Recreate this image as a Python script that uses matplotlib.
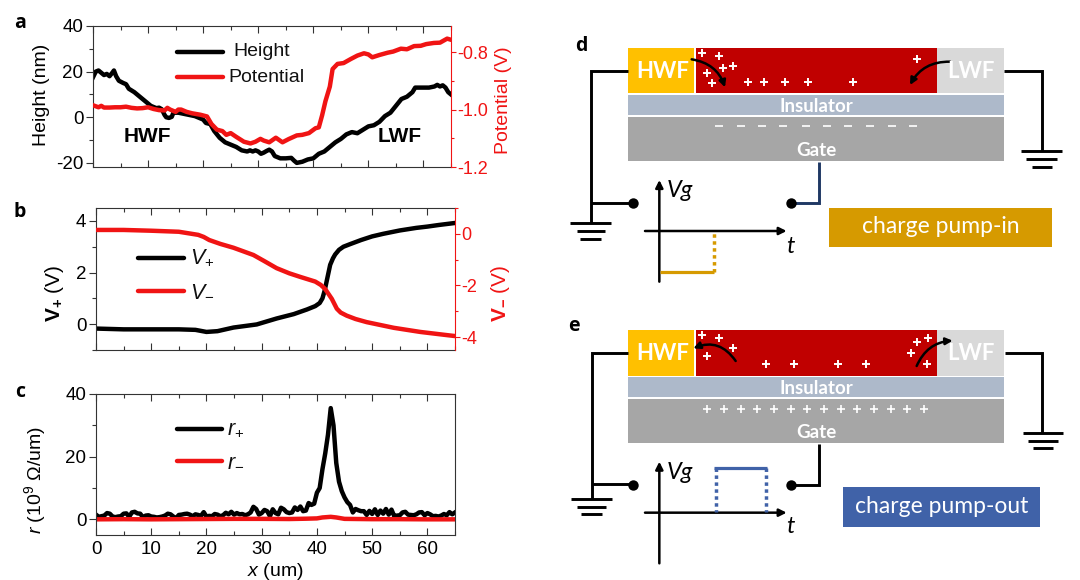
import matplotlib
matplotlib.use("Agg")
import matplotlib.pyplot as plt
from matplotlib.patches import Rectangle, FancyArrowPatch
from matplotlib.ticker import MultipleLocator

plt.rcParams['font.family'] = ['Liberation Sans', 'DejaVu Sans']
plt.rcParams['mathtext.fontset'] = 'custom'
plt.rcParams['mathtext.rm'] = 'Liberation Sans'
plt.rcParams['mathtext.it'] = 'Liberation Sans:italic'
plt.rcParams['mathtext.bf'] = 'Liberation Sans:bold'
plt.rcParams['axes.unicode_minus'] = False

# panel a
height_x = [0, 0.5, 1, 1.5, 2, 2.5, 3, 3.5, 3.8, 4.2, 4.7, 5.5, 6, 6.5, 7.5, 8.5, 9.5, 10.5, 11.5, 12,
            12.5, 13, 13.3, 13.8, 14.3, 14.6, 15.5, 16.5, 17.5, 18.5, 19.5, 20, 20.5, 21.3, 22, 23, 24,
            25, 26, 27, 28, 28.5, 29, 29.5, 30, 30.5, 31, 31.5, 32, 32.5, 33, 34, 35, 36, 36.5, 37, 38,
            39, 40, 41, 42, 43, 44, 45, 46, 47, 48, 49, 50, 51, 52, 53, 54, 55, 56, 57, 58, 58.5, 60,
            61, 62, 62.5, 63, 63.5, 64, 64.5, 65]
height = [17.5, 20, 20.5, 19.5, 18.5, 19, 18, 19.5, 20.5, 18, 16, 15, 14.5, 12.5, 11, 9, 7, 5, 4, 4.2,
          3.5, 1, 0, -0.3, 0.2, 2, 2, 1.5, 1, 0.5, -0.5, -1, -2.5, -3, -6, -9, -11,
          -12, -13, -14.5, -15, -14.5, -15, -14.5, -15, -16, -15.5, -14.8, -14.2, -15, -17, -18, -18, -17.8, -19, -20, -19.5,
          -18.5, -18, -16, -15, -13, -11, -9.5, -7.5, -6.5, -7, -5.5, -4, -3.5, -2, 0.5, 2, 5, 8, 9, 11, 13, 13,
          13, 13.5, 14.2, 13.5, 14, 13, 11, 10]
potential_x = [0, 1, 1.5, 2, 3, 4, 5, 6, 7, 8, 9, 10, 11, 12, 13, 13.5, 14, 15, 15.5, 16, 17, 18, 19.5, 20.7,
               21.5, 22.5, 23.5, 24.2, 25, 26, 27.4, 28.6, 29.5, 30.4, 31, 32, 33.2, 34.4, 35.5, 37, 38, 39.2,
               40.4, 41, 41.6, 42.2, 43, 43.5, 44.4, 45.5, 46.8, 48, 49.2, 50, 50.7, 52, 53.5, 54.5, 55.9, 57,
               58.3, 59.5, 60.5, 61.9, 63, 64.3, 65]
potential = [-0.985, -0.992, -0.987, -0.993, -0.993, -0.992, -0.992, -0.990, -0.994, -0.996, -0.995, -0.992,
             -0.998, -1.002, -1.003, -0.994, -1.0, -1.008, -1.0, -1.0, -1.008, -1.013, -1.018, -1.024,
             -1.05, -1.07, -1.075, -1.088, -1.082, -1.095, -1.112, -1.118, -1.112, -1.102, -1.108, -1.114,
             -1.098, -1.114, -1.103, -1.09, -1.088, -1.082,
             -1.065, -1.062, -1.02, -0.971, -0.92, -0.859, -0.841, -0.838, -0.824, -0.812, -0.804, -0.808,
             -0.818, -0.81, -0.802, -0.798, -0.788, -0.79,
             -0.779, -0.778, -0.772, -0.768, -0.767, -0.753, -0.757]

# panel b
v_plus_x = [0, 5, 10, 15, 18, 20, 22, 24.9, 29.1, 32.7, 35.8, 38.2, 39.7, 40.5, 41, 41.4, 41.8, 42.4, 42.9, 43.3,
            44, 44.8, 46, 48, 50, 52, 55, 58, 60, 62, 65]
v_plus = [-0.17, -0.2, -0.2, -0.2, -0.22, -0.3, -0.27, -0.13, -0.01, 0.22, 0.39, 0.57, 0.7, 0.82, 1.0, 1.3, 1.7,
          2.3, 2.55, 2.7, 2.88, 3.0, 3.1, 3.26, 3.4, 3.5, 3.63, 3.73, 3.78, 3.84, 3.92]
v_minus_x = [0, 5, 10, 15, 18.5, 19.5, 20.5, 22.5, 24.9, 28.5, 30.5, 32.7, 35, 37, 39.7, 40.7, 41.5, 42.7, 43.6, 44.3,
             45.4, 47, 49, 53.9, 58.7, 63, 65]
v_minus = [0.15, 0.15, 0.12, 0.08, -0.04, -0.12, -0.24, -0.39, -0.54, -0.82, -1.06, -1.33, -1.53, -1.67, -1.85,
           -1.98, -2.14, -2.52, -2.9, -3.05, -3.17, -3.3, -3.42, -3.64, -3.8, -3.91, -3.96]

# panel c
r_plus_x = [0, 0.5, 1, 1.5, 2, 2.5, 3, 3.5, 4, 4.5, 5, 5.5, 6, 6.5, 7, 7.5, 8, 8.5, 9, 9.5, 10, 10.5, 11, 11.5,
            12, 12.5, 13, 13.5, 14, 14.5, 15, 15.5, 16, 16.5, 17, 17.5, 18, 18.5, 19, 19.5, 20, 20.5, 21, 21.5,
            22, 22.5, 23, 23.5, 24, 24.5, 25, 25.5, 26, 26.5, 27, 27.5, 28, 28.5, 29, 29.5, 30, 30.5, 31, 31.5,
            32, 32.5, 33, 33.5, 34, 34.5, 35, 35.5, 36, 36.5, 37, 37.5, 38, 38.5, 39, 39.5, 40, 40.5, 41, 41.5,
            42, 42.5, 43, 43.5, 44, 44.5, 45, 45.5, 46, 46.5, 47, 47.5, 48, 48.5, 49, 49.5, 50, 50.5, 51, 51.5,
            52, 52.5, 53, 53.5, 54, 54.5, 55, 55.5, 56, 56.5, 57, 57.5, 58, 58.5, 59, 59.5, 60, 60.5, 61, 61.5,
            62, 62.5, 63, 63.5, 64, 64.5, 65]
r_plus = [1.5, 0.8, 1, 1.2, 2, 1.8, 0.9, 0.7, 0.9, 1.0, 1.8, 1.9, 0.8, 2.2, 2.4, 1.9, 1.8, 0.7, 1.2, 1.3, 0.9, 0.8, 0.6, 0.7,
          0.9, 1.2, 1.8, 1.6, 0.9, 0.4, 1.4, 1.5, 1.7, 1.8, 1.5, 1, 1.6, 1.4, 1.1, 2.3, 0.9, 1.1, 1.0, 1.7,
          1.5, 1.0, 1.3, 2.1, 1.6, 2.4, 1.5, 2.0, 1.6, 1.7, 1.3, 1.6, 2.2, 4.0, 3.3, 1.5, 2.0, 3.0, 2.6, 1.0,
          3.2, 2.0, 1.6, 3.7, 3.2, 2.3, 2.0, 2.2, 3.8, 3.0, 4.1, 2.6, 2.8, 5.2, 4.6, 5.0, 8.5, 10, 16, 21,
          27, 35.5, 30, 18, 12, 9, 7, 5.5, 4.6, 2.2, 3.3, 2.9, 2.6, 2.6, 1.4, 2.7, 1.7, 3.2, 1.4, 2.8,
          1.8, 3.3, 1.5, 3.1, 1.0, 1.2, 1.3, 2.2, 2.4, 1.5, 1.4, 1.3, 1.6, 2.2, 2.3, 1.3, 2.0, 1.6, 1.0, 1.1,
          0.9, 1.2, 1.7, 1.3, 2.3, 1.6, 2.2]
r_minus_x = [0, 5, 10, 15, 20, 25, 30, 35, 38, 40, 41, 42.5, 43.5, 45, 50, 55, 60, 65]
r_minus = [0.0, 0.05, 0.0, 0.05, 0.1, 0.15, 0.15, 0.1, 0.2, 0.3, 0.6, 0.8, 0.6, 0.15, 0.05, 0.05, 0.0, 0.0]

x_major = [0, 10, 20, 30, 40, 50, 60]
RED = '#F01414'
LW = 3.2
TICK_SIZE = 13.5
LABEL_SIZE = 14


def style_axes(ax, twin, y_major, y_minor, r_major=None, r_minor=None):
    ax.set_xlim(0, 65)
    ax.set_xticks(x_major)
    ax.xaxis.set_minor_locator(MultipleLocator(5))
    ax.tick_params(axis='x', which='both', direction='in', top=True, labelbottom=False, width=0.8, color='#333333')
    ax.tick_params(axis='x', which='major', length=5)
    ax.tick_params(axis='x', which='minor', length=3)
    ax.yaxis.set_major_locator(MultipleLocator(y_major))
    ax.yaxis.set_minor_locator(MultipleLocator(y_minor))
    ax.tick_params(axis='y', which='major', length=5, width=0.8, labelsize=TICK_SIZE, pad=2, color='#333333')
    ax.tick_params(axis='y', which='minor', length=3, width=0.8, color='#333333')
    for s in ax.spines.values():
        s.set_linewidth(0.8)
        s.set_color('#333333')
    if twin is not None:
        ax.spines['right'].set_visible(False)
        twin.yaxis.set_major_locator(MultipleLocator(r_major))
        twin.yaxis.set_minor_locator(MultipleLocator(r_minor))
        twin.tick_params(axis='y', which='major', length=3.5, width=0.8, labelsize=13, pad=1,
                         colors=RED)
        twin.tick_params(axis='y', which='minor', length=2.5, width=0.8, colors=RED)
        for name in ['left', 'top', 'bottom']:
            twin.spines[name].set_visible(False)
        twin.spines['right'].set_color(RED)
        twin.spines['right'].set_linewidth(0.8)


W, H = 1080, 580
fig = plt.figure(figsize=(W / 100, H / 100), dpi=100)


def px_axes(left, top, right, bottom):
    return fig.add_axes([left / W, 1 - bottom / H, (right - left) / W, (bottom - top) / H])


# a
ax_a = px_axes(93, 26, 451, 167)
ax_a.plot(height_x, height, color='black', lw=LW)
ax_a.set_ylim(-21.8, 40)
twin_a = ax_a.twinx()
twin_a.plot(potential_x, potential, color=RED, lw=LW)
twin_a.set_ylim(-1.2, -0.709)
style_axes(ax_a, twin_a, 20, 10, 0.2, 0.1)

# b
ax_b = px_axes(96, 208, 455, 350)
ax_b.plot(v_plus_x, v_plus, color='black', lw=LW)
ax_b.set_ylim(-1, 4.5)
twin_b = ax_b.twinx()
twin_b.plot(v_minus_x, v_minus, color=RED, lw=LW)
twin_b.set_ylim(-4.5, 1)
style_axes(ax_b, twin_b, 2, 1, 2, 1)

# c
ax_c = px_axes(96, 394, 455, 535)
ax_c.plot(r_plus_x, r_plus, color='black', lw=LW)
ax_c.plot(r_minus_x, r_minus, color=RED, lw=LW)
ax_c.set_ylim(-5, 40)
style_axes(ax_c, None, 20, 10)
ax_c.tick_params(axis='x', labelbottom=True, labelsize=TICK_SIZE, pad=4)

# overlay in figure pixels for labels and legend samples
over = fig.add_axes([0, 0, 1, 1], zorder=5)
over.set_xlim(0, W)
over.set_ylim(H, 0)
over.axis('off')
over.patch.set_alpha(0)


def legend_row(x0, x1, y, color, label, tx, size=LABEL_SIZE):
    over.plot([x0, x1], [y, y], color=color, lw=LW, solid_capstyle='round')
    over.text(tx, y, label, fontsize=size, va='center', ha='left', color='#111111')


legend_row(177, 223, 52, 'black', 'Height', 233)
legend_row(177, 223, 77, RED, 'Potential', 228)
legend_row(138, 184, 258, 'black', r'$V_{+}$', 190, 15.5)
legend_row(138, 184, 291, RED, r'$V_{-}$', 190, 15.5)
legend_row(177, 222, 429, 'black', r'$r_{+}$', 227, 15.5)
legend_row(177, 222, 461, RED, r'$r_{-}$', 227, 15.5)

over.text(147, 137, 'HWF', fontsize=15, fontweight='bold', ha='center', va='center')
over.text(400, 137, 'LWF', fontsize=15, fontweight='bold', ha='center', va='center')
over.text(42, 95, 'Height (nm)', fontsize=LABEL_SIZE, rotation=90, ha='center', va='center')
over.text(504, 100, 'Potential (V)', fontsize=LABEL_SIZE, rotation=90, ha='center', va='center', color=RED)
over.text(55, 293, r'$\mathbf{V_{+}}$ (V)', fontsize=15, rotation=90, ha='center', va='center')
over.text(500, 293, r'$\mathbf{V_{-}}$ (V)', fontsize=15, rotation=90, ha='center', va='center', color=RED)
over.text(35, 480, r'$r$ (10$^{9}$ Ω/um)', fontsize=LABEL_SIZE, rotation=90, ha='center', va='center')
over.text(275, 571, r'$x$ (um)', fontsize=LABEL_SIZE, ha='center', va='center')

for letter, lx, ly in [('a', 20, 23), ('b', 20, 212), ('c', 20, 392), ('d', 581, 46), ('e', 574, 326)]:
    over.text(lx, ly, letter, fontsize=14, fontweight='bold', ha='center', va='center',
              family=['Open Sans', 'DejaVu Sans'])


def draw_device(top, wires, grounds, dots, pluses, gate_marks, gate_marker, arrows,
                vg_ys, axis_y, pulse, pulse_color, dotted, badge, badge_color, badge_text, rects):
    # one crop of 520x260 px, drawn in 3x coordinates
    ax = px_axes(560, top, 1080, top + 260)
    ax.set_xlim(0, 1560)
    ax.set_ylim(780, 0)
    ax.axis('off')
    ax.patch.set_alpha(0)
    font = ['Lato', 'DejaVu Sans']
    y0, y1, y2, y3, y4, y5 = rects
    for (xa, xb, ya, yb, c) in [(205, 402, y0, y1, '#FFC000'), (407, 1130, y0, y1, '#C00000'),
                                (1130, 1332, y0, y1, '#D9D9D9'), (205, 1332, y2, y3, '#ADB9CA'),
                                (205, 1332, y4, y5, '#A6A6A6')]:
        ax.add_patch(Rectangle((xa, ya), xb - xa, yb - ya, color=c, lw=0))
    ym = (y0 + y1) / 2
    ax.text(308, ym + 3, 'HWF', color='white', fontsize=16, fontweight='bold', family=font, ha='center', va='center')
    ax.text(1232, ym + 3, 'LWF', color='white', fontsize=16, fontweight='bold', family=font, ha='center', va='center')
    ax.text(768, (y2 + y3) / 2 + 3, 'Insulator', color='white', fontsize=13.5, fontweight='bold', family=font,
            ha='center', va='center')
    ax.text(768, y5 - 32, 'Gate', color='white', fontsize=13.5, fontweight='bold', family=font,
            ha='center', va='center')
    for xs, ys, c in wires:
        ax.plot(xs, ys, color=c, lw=2.1, solid_capstyle='butt', solid_joinstyle='miter')
    for gx, gy, half_widths in grounds:
        for i, hw in enumerate(half_widths):
            ax.plot([gx - hw, gx + hw], [gy + i * 23.5] * 2, color='black', lw=2.1, solid_capstyle='butt')
    ax.plot([d[0] for d in dots], [d[1] for d in dots], 'o', color='black', ms=7.5, mew=0)
    ax.plot([p[0] for p in pluses], [p[1] for p in pluses], '+', color='white', ms=5.5, mew=1.4)
    ax.plot([g[0] for g in gate_marks], [g[1] for g in gate_marks], gate_marker, color='white', ms=5.5, mew=1.2)
    for start, end, rad in arrows:
        ax.add_patch(FancyArrowPatch(start, end, connectionstyle=f'arc3,rad={rad}', arrowstyle='-|>',
                                     mutation_scale=10, color='black', lw=1.8, shrinkA=0, shrinkB=0))
    # small Vg-t sketch
    ax.add_patch(FancyArrowPatch((298, vg_ys[0]), (298, vg_ys[1]), arrowstyle='-|>', mutation_scale=11,
                                 color='black', lw=1.8, shrinkA=0, shrinkB=0))
    ax.add_patch(FancyArrowPatch((255, axis_y), (680, axis_y), arrowstyle='-|>', mutation_scale=11,
                                 color='black', lw=1.8, shrinkA=0, shrinkB=0))
    ax.text(320, vg_ys[1] + 32, 'Vg', fontsize=17, style='italic', family=font, ha='left', va='center')
    ax.text(690, 650, 't', fontsize=17, style='italic', family=font, ha='center', va='center')
    ax.plot(pulse[0], pulse[1], color=pulse_color, lw=2.3, solid_capstyle='butt')
    for xs, ys in dotted:
        ax.plot(xs, ys, color=pulse_color, lw=2.5, linestyle=(0, (1, 1)))
    bx0, bx1, by0, by1 = badge
    ax.add_patch(Rectangle((bx0, by0), bx1 - bx0, by1 - by0, color=badge_color, lw=0))
    ax.text((bx0 + bx1) / 2, (by0 + by1) / 2 - 2, badge_text, color='white', fontsize=16.5, family=font,
            ha='center', va='center')


PLUS_D = [(427, 68), (477, 77), (488, 113), (518, 108), (442, 130), (457, 160), (563, 155), (613, 155),
          (675, 155), (745, 155), (880, 155), (1071, 88)]
MINUS_D = [(478, 287), (543, 287), (605, 287), (670, 287), (737, 287), (800, 287), (865, 287), (930, 287),
           (995, 287), (1058, 287)]
PLUS_E = [(427, 75), (477, 85), (518, 115), (442, 137), (617, 162), (702, 162), (833, 162), (918, 162),
          (1071, 95), (1105, 85), (1053, 128), (1100, 163)]
GATE_E = [(442, 298), (492, 298), (542, 298), (592, 298), (642, 298), (692, 298), (742, 298), (792, 298),
          (842, 298), (892, 298), (942, 298), (992, 298), (1042, 298), (1093, 298)]

draw_device(
    30,
    wires=[([205, 92, 92], [122, 122, 580], 'black'), ([92, 218], [518, 518], 'black'),
           ([1332, 1445, 1445], [122, 122, 363], 'black'),
           ([777, 777, 693], [395, 520, 520], '#1F3864')],
    grounds=[(92, 580, [62, 42, 31]), (1445, 363, [61, 46, 30])],
    dots=[(218, 518), (693, 520)],
    pluses=PLUS_D, gate_marks=MINUS_D, gate_marker='_',
    arrows=[((395, 88), (495, 172), -0.3), ((1170, 95), (1050, 165), 0.3)],
    vg_ys=(755, 450), axis_y=603,
    pulse=([300, 462], [727, 727]), pulse_color='#D69A00',
    dotted=[([462, 462], [727, 605])],
    badge=(808, 1475, 535, 650), badge_color='#D69A00', badge_text='charge pump-in',
    rects=(53, 190, 195, 255, 260, 393))

draw_device(
    310,
    wires=[([205, 95, 95], [128, 128, 566], 'black'), ([95, 218], [523, 523], 'black'),
           ([1335, 1447, 1447], [128, 128, 368], 'black'),
           ([777, 777, 693], [402, 525, 525], 'black')],
    grounds=[(95, 566, [62, 44, 31]), (1448, 368, [60, 45, 30])],
    dots=[(218, 525), (693, 525)],
    pluses=PLUS_E, gate_marks=GATE_E, gate_marker='+',
    arrows=[((527, 153), (400, 115), 0.4), ((1070, 168), (1178, 92), -0.3)],
    vg_ys=(760, 455), axis_y=608,
    pulse=([462, 622], [474, 474]), pulse_color='#4062A8',
    dotted=[([467, 467], [474, 606]), ([618, 618], [474, 606])],
    badge=(850, 1440, 532, 650), badge_color='#4062A8', badge_text='charge pump-out',
    rects=(60, 197, 202, 262, 266, 400))

fig.savefig('out.png', dpi=100)
